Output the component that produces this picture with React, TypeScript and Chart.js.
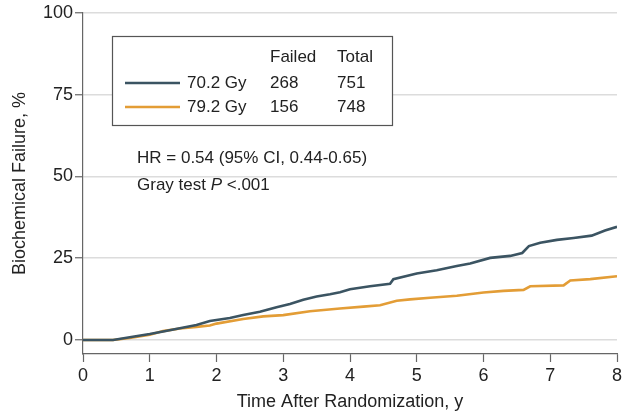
import React, { useEffect, useRef } from "react";
import { Chart, registerables } from "chart.js";

Chart.register(...registerables);

// 70.2 Gy arm: years and cumulative biochemical failure (%)
const lowDoseYears = [0, 0.45, 0.7, 1.0, 1.2, 1.45, 1.7, 1.9, 2.2, 2.4, 2.65, 2.9, 3.1, 3.3, 3.5, 3.7, 3.85, 4.0, 4.3, 4.6, 4.65, 5.0, 5.3, 5.6, 5.8, 6.1, 6.4, 6.58, 6.68, 6.85, 7.1, 7.35, 7.62, 7.82, 8.0];
const lowDoseFailure = [0, 0, 0.8, 1.8, 2.6, 3.6, 4.6, 5.8, 6.7, 7.6, 8.6, 10.0, 11.0, 12.3, 13.3, 14.0, 14.6, 15.5, 16.4, 17.2, 18.6, 20.3, 21.3, 22.6, 23.4, 25.1, 25.7, 26.6, 28.7, 29.7, 30.6, 31.2, 31.9, 33.5, 34.6];

// 79.2 Gy arm
const highDoseYears = [0, 0.45, 0.7, 1.0, 1.2, 1.45, 1.7, 1.9, 2.0, 2.4, 2.7, 3.0, 3.4, 3.85, 4.2, 4.45, 4.7, 4.9, 5.2, 5.6, 6.0, 6.3, 6.6, 6.7, 7.2, 7.3, 7.6, 8.0];
const highDoseFailure = [0, 0, 0.6, 1.6, 2.7, 3.5, 4.0, 4.4, 5.0, 6.4, 7.2, 7.6, 8.8, 9.6, 10.2, 10.6, 12.0, 12.4, 12.9, 13.5, 14.5, 15.0, 15.3, 16.4, 16.7, 18.2, 18.6, 19.5];

const xTicks = [0, 1, 2, 3, 4, 5, 6, 7, 8];
const yTicks = [0, 25, 50, 75, 100];

const seriesLabels = ["70.2 Gy", "79.2 Gy"];
const failedCounts = [268, 156];
const totalCounts = [751, 748];
const hrText = "HR = 0.54 (95% CI, 0.44-0.65)";

const DARK = "#3b5462";
const ORANGE = "#e39d36";
const FONT = "'Liberation Sans', Arial, sans-serif";

const annotationPlugin = {
  id: "annot",
  afterDraw(chart: any) {
    const ctx = chart.ctx;
    ctx.save();
    // legend box
    ctx.fillStyle = "#fff";
    ctx.fillRect(112.5, 36.5, 280, 89);
    ctx.strokeStyle = "#555";
    ctx.lineWidth = 1.2;
    ctx.strokeRect(112.5, 36.5, 280, 89);
    ctx.font = `17px ${FONT}`;
    ctx.fillStyle = "#222";
    ctx.textBaseline = "middle";
    ctx.textAlign = "left";
    ctx.fillText("Failed", 270, 57);
    ctx.fillText("Total", 337, 57);
    const rows = [83, 107];
    const cols = [DARK, ORANGE];
    for (let i = 0; i < 2; i++) {
      ctx.strokeStyle = cols[i];
      ctx.lineWidth = 2.5;
      ctx.beginPath();
      ctx.moveTo(125, rows[i]);
      ctx.lineTo(180, rows[i]);
      ctx.stroke();
      ctx.fillText(seriesLabels[i], 187, rows[i]);
      ctx.fillText(String(failedCounts[i]), 270, rows[i]);
      ctx.fillText(String(totalCounts[i]), 337, rows[i]);
    }
    ctx.fillText(hrText, 137, 158);
    const pre = "Gray test ";
    ctx.fillText(pre, 137, 185);
    let w = ctx.measureText(pre).width;
    ctx.font = `italic 17px ${FONT}`;
    ctx.fillText("P", 137 + w, 185);
    w += ctx.measureText("P").width;
    ctx.font = `17px ${FONT}`;
    ctx.fillText(" <.001", 137 + w, 185);
    ctx.restore();
  },
};

export default function App() {
  const ref = useRef<HTMLCanvasElement>(null);
  useEffect(() => {
    const canvas = ref.current;
    if (!canvas) return;
    const chart = new Chart(canvas, {
      type: "line",
      data: {
        datasets: [
          {
            label: seriesLabels[0],
            data: lowDoseYears.map((x, i) => ({ x, y: lowDoseFailure[i] })),
            borderColor: DARK,
            borderWidth: 2.6,
            pointRadius: 0,
            tension: 0,
          },
          {
            label: seriesLabels[1],
            data: highDoseYears.map((x, i) => ({ x, y: highDoseFailure[i] })),
            borderColor: ORANGE,
            borderWidth: 2.6,
            pointRadius: 0,
            tension: 0,
          },
        ],
      },
      options: {
        animation: false,
        responsive: false,
        maintainAspectRatio: false,
        layout: { padding: { top: 13, right: 17, bottom: 0, left: 0 } },
        plugins: { legend: { display: false }, tooltip: { enabled: false } },
        scales: {
          x: {
            type: "linear",
            min: 0,
            max: 8,
            afterBuildTicks: (s: any) => {
              s.ticks = xTicks.map((v) => ({ value: v }));
            },
            afterFit: (s: any) => {
              s.height = 59;
            },
            ticks: { color: "#222", font: { family: FONT, size: 18 }, padding: 3, maxRotation: 0 },
            grid: { drawOnChartArea: false, drawTicks: true, tickLength: 8, tickColor: "#666", tickWidth: 1.2 },
            border: { color: "#666", width: 1.2 },
            title: {
              display: true,
              text: "Time After Randomization, y",
              color: "#222",
              font: { family: FONT, size: 18 },
              padding: { top: 0, bottom: 0 },
            },
          },
          y: {
            type: "linear",
            min: -4.3,
            max: 100,
            afterBuildTicks: (s: any) => {
              s.ticks = yTicks.map((v) => ({ value: v }));
            },
            afterFit: (s: any) => {
              s.width = 83;
            },
            ticks: { color: "#222", font: { family: FONT, size: 18 }, padding: 2 },
            grid: { color: "#dcdcdc", lineWidth: 1.5, drawTicks: true, tickLength: 8, tickColor: "#666", tickWidth: 1.2 },
            border: { color: "#666", width: 1.2 },
            title: {
              display: true,
              text: "Biochemical Failure, %",
              color: "#222",
              font: { family: FONT, size: 18 },
              padding: { top: 9, bottom: 0 },
            },
          },
        },
      },
      plugins: [annotationPlugin],
    } as any);
    return () => chart.destroy();
  }, []);
  return (
    <div style={{ position: "fixed", left: 0, top: 0, width: 634, height: 413, background: "#fff" }}>
      <canvas ref={ref} width={634} height={413} style={{ width: 634, height: 413, display: "block" }} />
    </div>
  );
}
